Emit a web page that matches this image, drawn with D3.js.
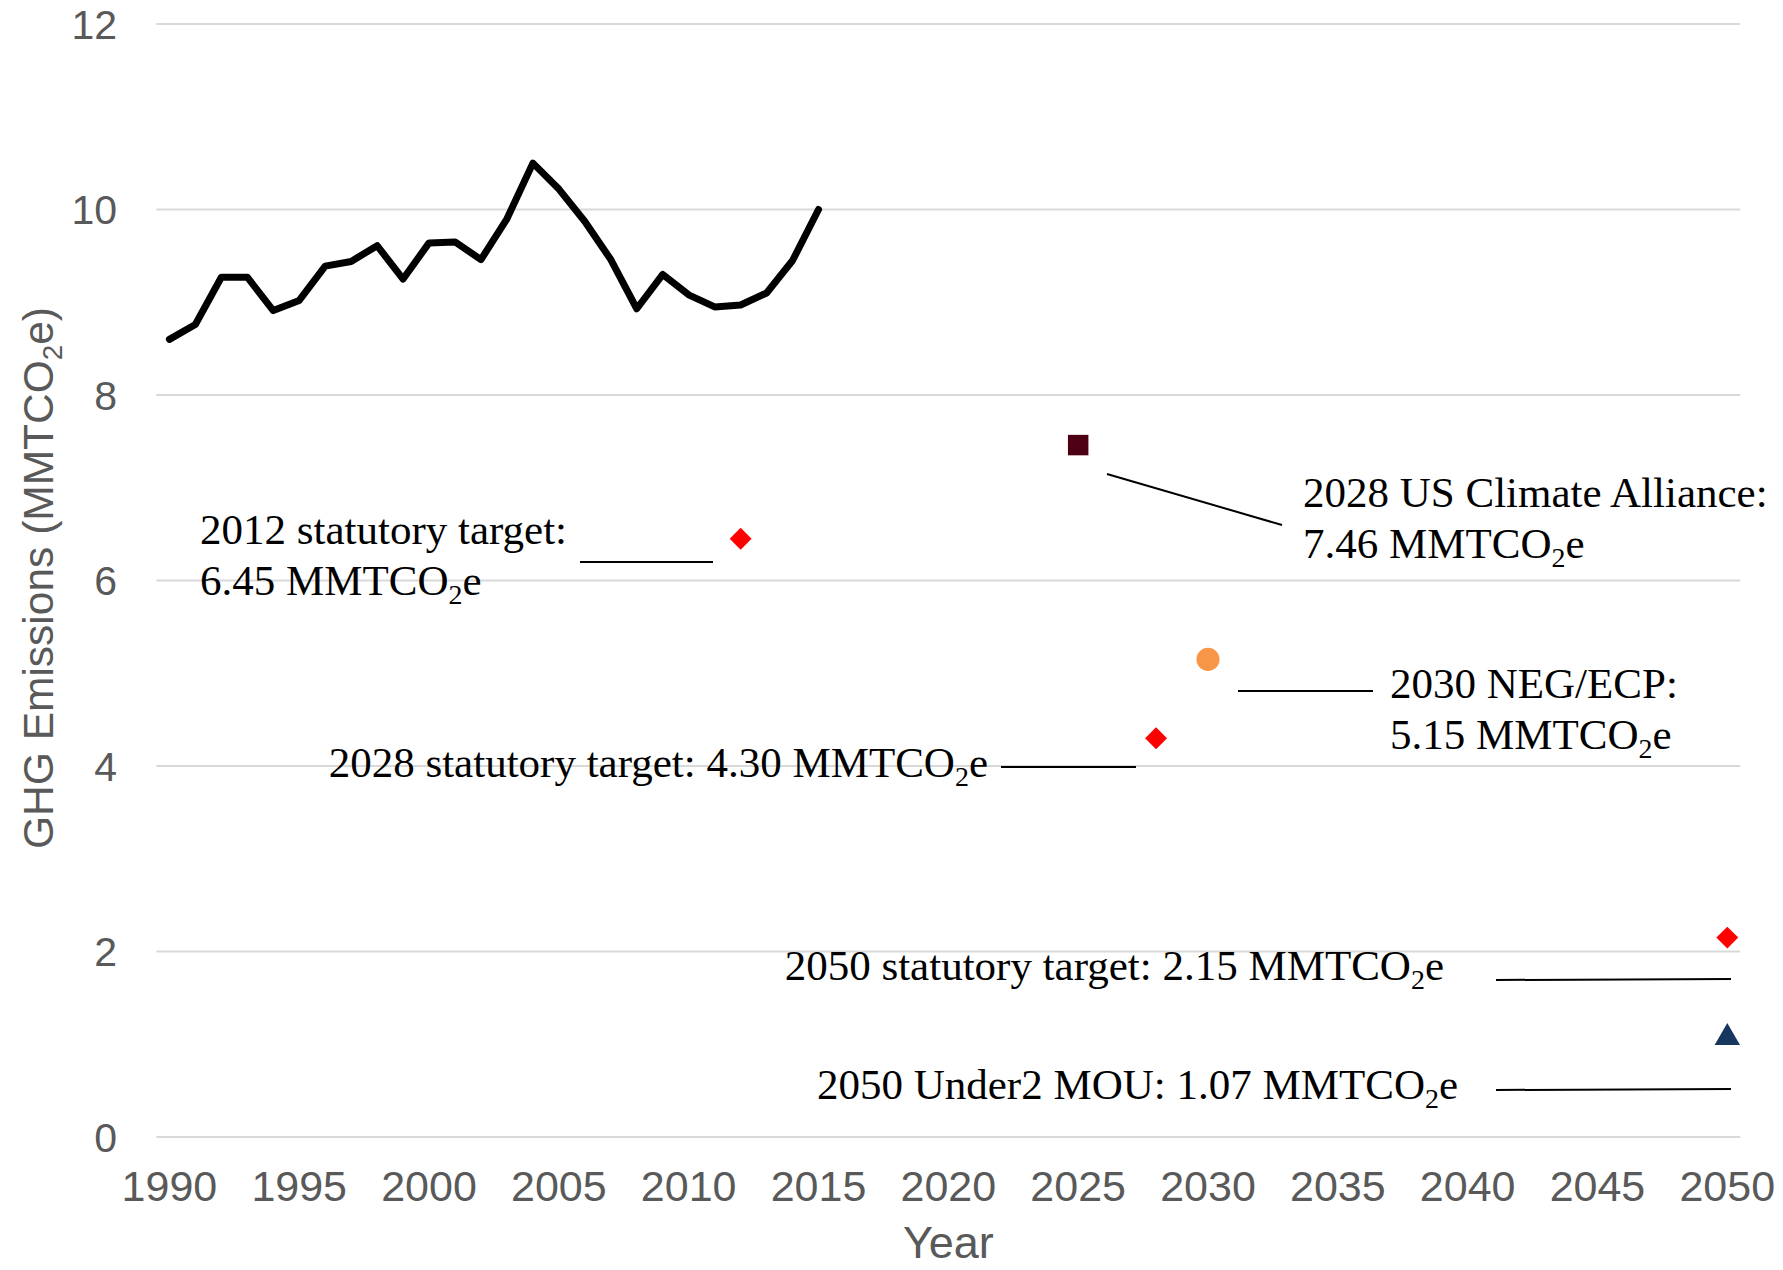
<!DOCTYPE html>
<html>
<head>
<meta charset="utf-8">
<script src="https://cdn.jsdelivr.net/npm/d3@7"></script>
<style>
  body { margin: 0; background: #fff; }
  svg { display: block; }
</style>
</head>
<body>
<svg id="chart" width="1783" height="1270"></svg>
<script>
  // historic emissions 1990-2015
  const years = d3.range(1990, 2016);
  const emissions = [8.60, 8.76, 9.27, 9.27, 8.91, 9.02, 9.39, 9.44, 9.61, 9.25, 9.64, 9.65, 9.46, 9.90,
    10.50, 10.22, 9.87, 9.46, 8.93, 9.30, 9.08, 8.95, 8.97, 9.10, 9.45, 10.00];

  // targets
  const targetYears = [2012, 2025, 2028, 2030, 2050, 2050];
  const targetValues = [6.45, 7.46, 4.30, 5.15, 2.15, 1.07];
  const targetShapes = ["diamond", "square", "diamond", "circle", "diamond", "triangle"];
  const targetColors = ["#ff0000", "#4d0014", "#ff0000", "#f79646", "#ff0000", "#17375e"];
  const targetLabels = [
    ["2012 statutory target:", "6.45 MMTCO_2e"],
    ["2028 US Climate Alliance:", "7.46 MMTCO_2e"],
    ["2028 statutory target: 4.30 MMTCO_2e"],
    ["2030 NEG/ECP:", "5.15 MMTCO_2e"],
    ["2050 statutory target: 2.15 MMTCO_2e"],
    ["2050 Under2 MOU: 1.07 MMTCO_2e"]
  ];

  const xTicks = d3.range(1990, 2051, 5);
  const yTicks = [0, 2, 4, 6, 8, 10, 12];

  const svg = d3.select("#chart");
  const x = d3.scaleLinear().domain([1990, 2050]).range([169.4, 1727.3]);
  const y = d3.scaleLinear().domain([0, 12]).range([1137, 24]);
  const axisColor = "#595959";
  const sans = "'Liberation Sans', Arial, sans-serif";
  const serif = "'Liberation Serif', 'Times New Roman', serif";
  const noteSize = 43;

  // gridlines
  svg.append("g").selectAll("line")
    .data(yTicks)
    .enter()
    .append("line")
    .attr("x1", x(1990) - 13)
    .attr("x2", x(2050) + 13)
    .attr("y1", d => y(d))
    .attr("y2", d => y(d))
    .attr("stroke", "#d9d9d9")
    .attr("stroke-width", 2);

  // y tick labels
  svg.append("g").selectAll("text")
    .data(yTicks)
    .enter()
    .append("text")
    .attr("x", 117)
    .attr("y", d => y(d))
    .attr("dy", "0.36em")
    .attr("text-anchor", "end")
    .attr("fill", axisColor)
    .style("font-family", sans)
    .style("font-size", "41px")
    .text(d => d);

  // x tick labels
  svg.append("g").selectAll("text")
    .data(xTicks)
    .enter()
    .append("text")
    .attr("x", d => x(d))
    .attr("y", 1201)
    .attr("text-anchor", "middle")
    .attr("fill", axisColor)
    .style("font-family", sans)
    .style("font-size", "43px")
    .text(d => d);

  // rich text helper: "_2" -> subscript 2
  function rich(sel, str, size) {
    const parts = str.split("_");
    parts.forEach((p, i) => {
      if (i === 0) {
        sel.append("tspan").text(p);
      } else {
        sel.append("tspan")
          .attr("dy", size * 0.22)
          .style("font-size", (size * 0.65) + "px")
          .text(p[0]);
        sel.append("tspan")
          .attr("dy", -size * 0.22)
          .style("font-size", size + "px")
          .text(p.slice(1));
      }
    });
  }

  // axis titles
  svg.append("text")
    .attr("x", (x.range()[0] + x.range()[1]) / 2)
    .attr("y", 1258)
    .attr("text-anchor", "middle")
    .attr("fill", axisColor)
    .style("font-family", sans)
    .style("font-size", "45px")
    .text("Year");

  const yTitle = svg.append("text")
    .attr("transform", "translate(53,578) rotate(-90)")
    .attr("text-anchor", "middle")
    .attr("fill", axisColor)
    .style("font-family", sans)
    .style("font-size", "42.5px");
  rich(yTitle, "GHG Emissions (MMTCO_2e)", 42.5);

  // historic line
  const line = d3.line()
    .x((d, i) => x(years[i]))
    .y(d => y(d));

  svg.append("path")
    .datum(emissions)
    .attr("d", line)
    .attr("fill", "none")
    .attr("stroke", "#000")
    .attr("stroke-width", 7)
    .attr("stroke-linejoin", "round")
    .attr("stroke-linecap", "round");

  // target markers
  const symbolType = {
    diamond: d3.symbolSquare,
    square: d3.symbolSquare,
    circle: d3.symbolCircle,
    triangle: d3.symbolTriangle
  };
  const symbolSize = { diamond: 240, square: 420, circle: 420, triangle: 280 };

  svg.append("g").selectAll("path")
    .data(targetValues)
    .enter()
    .append("path")
    .attr("d", (d, i) => d3.symbol().type(symbolType[targetShapes[i]]).size(symbolSize[targetShapes[i]])())
    .attr("transform", (d, i) => `translate(${x(targetYears[i])},${y(d)})` +
      (targetShapes[i] === "diamond" ? " rotate(45)" : ""))
    .attr("fill", (d, i) => targetColors[i]);

  // annotation layout (pixel positions of labels and leader lines)
  const labelLayout = [
    { x: 200, y: 544, anchor: "start", leader: [580, 562, 713, 562] },
    { x: 1303, y: 507, anchor: "start", leader: [1107, 474, 1282, 525] },
    { x: 988, y: 777, anchor: "end", leader: [1001, 767, 1136, 767] },
    { x: 1390, y: 698, anchor: "start", leader: [1238, 691, 1373, 691] },
    { x: 1444, y: 980, anchor: "end", leader: [1496, 980, 1731, 979] },
    { x: 1458, y: 1099, anchor: "end", leader: [1496, 1090, 1731, 1089] }
  ];

  const notes = svg.append("g");
  targetLabels.forEach((lines, i) => {
    const L = labelLayout[i];
    notes.append("line")
      .attr("x1", L.leader[0]).attr("y1", L.leader[1])
      .attr("x2", L.leader[2]).attr("y2", L.leader[3])
      .attr("stroke", "#000")
      .attr("stroke-width", 2);
    lines.forEach((ln, j) => {
      const t = notes.append("text")
        .attr("x", L.x)
        .attr("y", L.y + j * 51)
        .attr("text-anchor", L.anchor)
        .attr("fill", "#000")
        .style("font-family", serif)
        .style("font-size", noteSize + "px");
      rich(t, ln, noteSize);
    });
  });
</script>
</body>
</html>
